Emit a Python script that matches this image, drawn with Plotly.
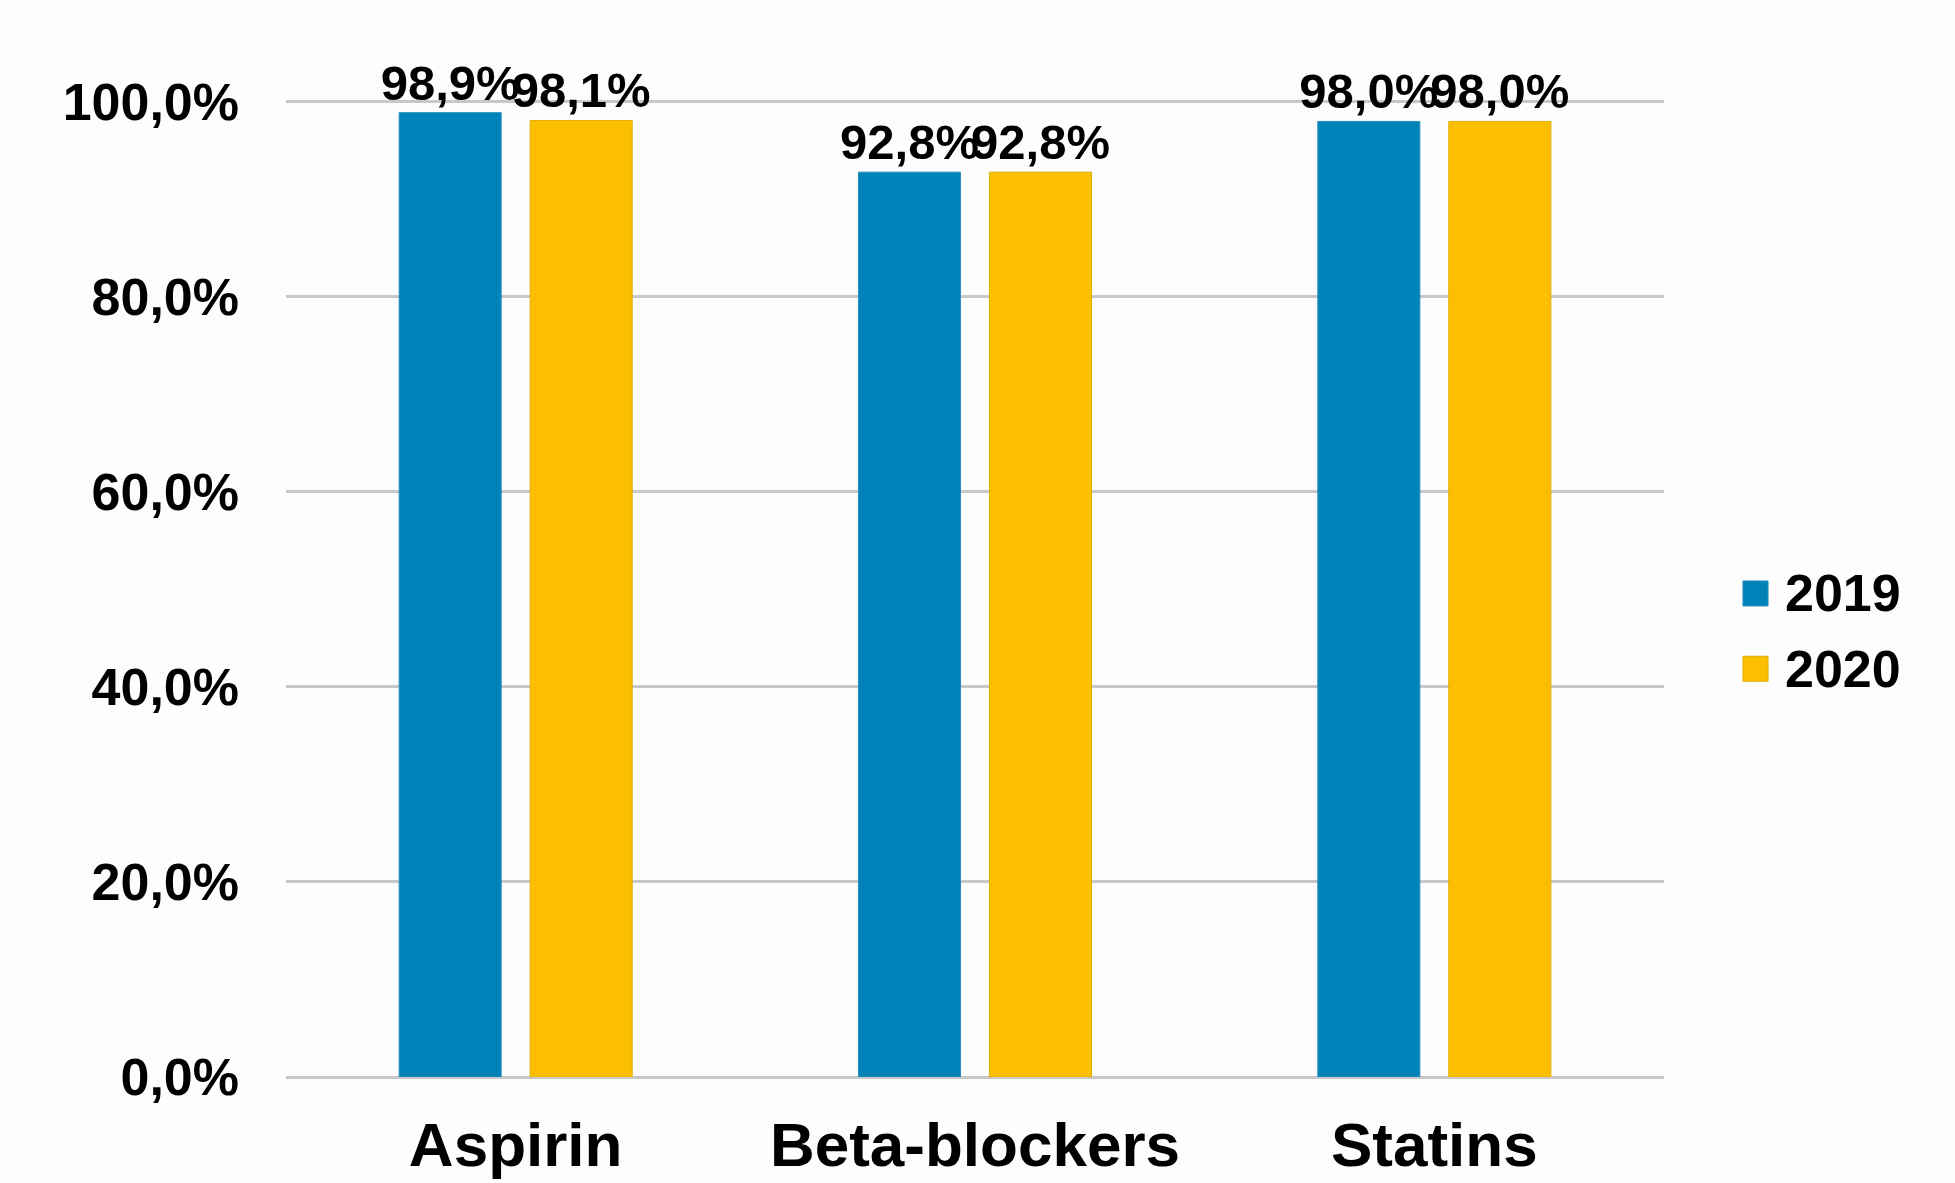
import plotly.graph_objects as go

categories = ["Aspirin", "Beta-blockers", "Statins"]
years = ["2019", "2020"]
values_2019 = [98.9, 92.8, 98.0]
values_2020 = [98.1, 92.8, 98.0]
y_ticks = [0, 20, 40, 60, 80, 100]

colors = {"2019": "#0083b8", "2020": "#fcbf00"}
edge = {"2019": "#2a8fc0", "2020": "#e0ae00"}
FONT = "Liberation Sans, Arial, sans-serif"


def fmt(v):
    return f"{v:.1f}".replace(".", ",") + "%"


fig = go.Figure()
for yr, vals in zip(years, [values_2019, values_2020]):
    fig.add_trace(go.Bar(
        x=categories, y=vals, name=yr,
        marker=dict(color=colors[yr], line=dict(color=edge[yr], width=1)),
        text=[fmt(v) for v in vals],
        textposition="outside",
        constraintext="none",
        cliponaxis=False,
        textfont=dict(family=FONT, size=49, color="black", weight="bold"),
        showlegend=False,
    ))

fig.update_layout(
    template="none",
    width=1955, height=1183,
    margin=dict(l=286, r=291, t=99, b=106, autoexpand=False),
    paper_bgcolor="#fdfdfd", plot_bgcolor="#fdfdfd",
    barmode="group", bargap=0.4296, bargroupgap=0.221,
    separators=",.",
    xaxis=dict(
        showgrid=False, showline=False, ticks="", automargin=False,
        tickfont=dict(family=FONT, size=62, color="black", weight="bold"),
        ticklabelstandoff=26,
    ),
    yaxis=dict(
        range=[0, 100.3], tickvals=y_ticks,
        ticktext=[fmt(v) for v in y_ticks],
        showgrid=True, gridcolor="#c8c8c8", gridwidth=3,
        zeroline=True, zerolinecolor="#c8c8c8", zerolinewidth=3,
        showline=False, ticks="", automargin=False,
        tickfont=dict(family=FONT, size=52, color="black", weight="bold"),
        ticklabelstandoff=46,
    ),
)

# Legend (drawn with shapes and text, matching the large square keys)
legend_y = {"2019": 0.4944, "2020": 0.4174}
for yr in years:
    yc = legend_y[yr]
    fig.add_shape(type="rect", xref="paper", yref="paper",
                  x0=1.0573, x1=1.0755, y0=yc - 0.0128, y1=yc + 0.0128,
                  fillcolor=colors[yr], line=dict(color=edge[yr], width=1))
    fig.add_annotation(xref="paper", yref="paper", x=1.0864, y=yc,
                       text=yr, showarrow=False, xanchor="left", yanchor="middle",
                       font=dict(family=FONT, size=52, color="black", weight="bold"))

fig.write_html("out.html")
